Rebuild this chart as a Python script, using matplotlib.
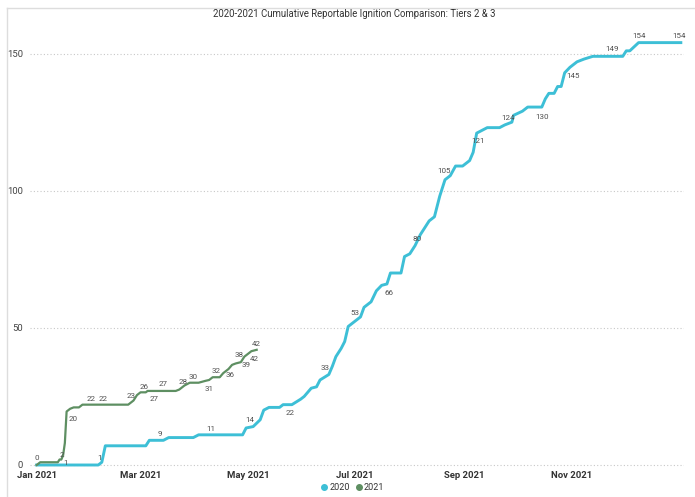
import numpy as np
import matplotlib
matplotlib.use("Agg")
import matplotlib.pyplot as plt
import matplotlib.dates as mdates
from matplotlib.lines import Line2D

plt.rcParams['font.family'] = ['Roboto', 'DejaVu Sans']

# 2020 series (plotted on the 2021 calendar), cumulative ignitions
dates_2020 = ['2021-01-01', '2021-02-05', '2021-02-07', '2021-02-09', '2021-03-04', '2021-03-06',
              '2021-03-14', '2021-03-17', '2021-03-31', '2021-04-03', '2021-04-28', '2021-04-30',
              '2021-05-04', '2021-05-08', '2021-05-10', '2021-05-13', '2021-05-19', '2021-05-21',
              '2021-05-26', '2021-05-31', '2021-06-02', '2021-06-06', '2021-06-09', '2021-06-11',
              '2021-06-16', '2021-06-18', '2021-06-20', '2021-06-23', '2021-06-25', '2021-06-27',
              '2021-06-30', '2021-07-04', '2021-07-06', '2021-07-10', '2021-07-13', '2021-07-16',
              '2021-07-19', '2021-07-21', '2021-07-27', '2021-07-29', '2021-08-01', '2021-08-04',
              '2021-08-07', '2021-08-10', '2021-08-12', '2021-08-15', '2021-08-18', '2021-08-21',
              '2021-08-24', '2021-08-27', '2021-08-31', '2021-09-04', '2021-09-06', '2021-09-08',
              '2021-09-11', '2021-09-14', '2021-09-21', '2021-09-24', '2021-09-28', '2021-09-29',
              '2021-10-04', '2021-10-07', '2021-10-15', '2021-10-17', '2021-10-19', '2021-10-22',
              '2021-10-24', '2021-10-26', '2021-10-28', '2021-10-31', '2021-11-04', '2021-11-08',
              '2021-11-13', '2021-11-30', '2021-12-02', '2021-12-04', '2021-12-09', '2022-01-02']
values_2020 = [0, 0, 1, 7, 7, 9,
               9, 10, 10, 11, 11, 13.5,
               14, 16.5, 20, 21, 21, 22,
               22, 24, 25, 28, 28.5, 31,
               33, 36, 39.5, 42.5, 45, 50.5,
               52, 54, 57.5, 59.5, 63.5, 65.5,
               66, 70, 70, 76, 77, 80,
               84, 87, 89, 90.5, 98, 104,
               105.5, 109, 109, 111, 114, 121,
               122, 123, 123, 124, 125, 127.5,
               129, 130.5, 130.5, 133.5, 135.5, 135.5,
               138, 138, 143, 145, 147, 148,
               149, 149, 151, 151, 154, 154]

# 2021 series
dates_2021 = ['2021-01-01', '2021-01-03', '2021-01-13', '2021-01-14', '2021-01-15', '2021-01-16',
              '2021-01-17', '2021-01-18', '2021-01-20', '2021-01-22', '2021-01-25', '2021-01-27',
              '2021-02-22', '2021-02-25', '2021-02-27', '2021-03-01', '2021-03-04', '2021-03-05',
              '2021-03-21', '2021-03-23', '2021-03-26', '2021-03-29', '2021-04-03', '2021-04-07',
              '2021-04-09', '2021-04-11', '2021-04-15', '2021-04-17', '2021-04-20', '2021-04-22',
              '2021-04-24', '2021-04-27', '2021-04-29', '2021-05-01', '2021-05-03', '2021-05-06']
values_2021 = [0, 1, 1, 2, 2, 3.5,
               8, 19.5, 20.5, 21, 21, 22,
               22, 23.5, 25.5, 26.5, 26.5, 27,
               27, 27.5, 29, 30, 30, 30.7,
               31, 32, 32, 33.5, 35, 36.5,
               37, 37.5, 39.5, 40.5, 41.5, 42]

# data labels
label_dates_2020 = ['2021-02-06', '2021-03-12', '2021-04-10', '2021-05-02', '2021-05-25', '2021-06-14',
                    '2021-07-01', '2021-07-19', '2021-08-05', '2021-08-22', '2021-09-09', '2021-09-26',
                    '2021-10-15', '2021-11-02', '2021-11-24', '2021-12-09', '2022-01-01']
label_text_2020 = ['1', '9', '11', '14', '22', '33', '53', '66', '80', '105', '121', '124',
                   '130', '145', '149', '154', '154']
label_dates_2021 = ['2021-01-01', '2021-01-16', '2021-01-15', '2021-01-20', '2021-02-01', '2021-02-08',
                    '2021-02-24', '2021-03-03', '2021-03-09', '2021-03-14', '2021-03-25', '2021-03-31',
                    '2021-04-09', '2021-04-13', '2021-04-21', '2021-04-26', '2021-04-30', '2021-05-04',
                    '2021-05-06']
label_text_2021 = ['0', '1', '2', '20', '22', '22', '23', '26', '27', '27', '28', '30',
                   '31', '32', '36', '38', '39', '42', '42']

series_names = ['2020', '2021']
tick_dates = ['2021-01-01', '2021-03-01', '2021-05-01', '2021-07-01', '2021-09-01', '2021-11-01']

# label offsets in pixels (dx, dy)
off_2020 = [(0, 6), (0, 6), (0, 6), (0, 7), (0, -8), (0, 9), (0, 8), (2, -9), (0, 3),
            (-3, 7), (0, -9), (0, 6), (0, -10), (0, -11), (0, 7), (0, 7), (0, 7)]
off_2021 = [(0, 7), (2, -8), (1, 5), (3, -10), (0, 6), (0, 6), (-1, 6), (0, 5), (0, -8),
            (0, 7), (0, 5), (0, 6), (0, -9), (0, 6), (0, -8), (0, 8), (0, -10), (1, -8), (0, 6)]

c2020 = '#3DBFD6'
c2021 = '#5E8F62'

fig = plt.figure(figsize=(6.95, 4.97), dpi=100)
ax = fig.add_axes([30 / 695, 1 - 467 / 497, 654 / 695, 437 / 497])

d20 = mdates.datestr2num(dates_2020)
d21 = mdates.datestr2num(dates_2021)
ax.plot(d20, values_2020, color=c2020, lw=2.1, solid_joinstyle='round', zorder=3)
ax.plot(d21, values_2021, color=c2021, lw=1.6, solid_joinstyle='round', zorder=3)

for dates, texts, offs, xs, ys in [(label_dates_2020, label_text_2020, off_2020, d20, values_2020),
                                   (label_dates_2021, label_text_2021, off_2021, d21, values_2021)]:
    ld = mdates.datestr2num(dates)
    ly = np.interp(ld, xs, ys)
    for x, y, t, (dx, dy) in zip(ld, ly, texts, offs):
        ax.annotate(t, (x, y), xytext=(dx, dy), textcoords='offset pixels',
                    ha='center', va='center', fontsize=5.8, color='#505050', zorder=4)

start = mdates.datestr2num('2021-01-01')
ax.set_xlim(start - 3.8, start + 367.8)
ax.set_ylim(-0.73, 158.6)
ax.set_yticks([0, 50, 100, 150])
ax.set_xticks(mdates.datestr2num(tick_dates))
ax.xaxis.set_major_formatter(mdates.DateFormatter('%b %Y'))
ax.tick_params(axis='x', length=0, pad=3, labelsize=6.8, labelcolor='#333333')
ax.tick_params(axis='y', length=0, pad=5, labelsize=6.8, labelcolor='#444444')
for lab in ax.get_xticklabels():
    lab.set_fontweight('bold')
for s in ax.spines.values():
    s.set_visible(False)
ax.grid(axis='y', color='#c8c8c8', linestyle=(0, (1, 2)), lw=0.8)
ax.set_axisbelow(True)

fig.text(354 / 695, 1 - 14 / 497, '2020-2021 Cumulative Reportable Ignition Comparison: Tiers 2 & 3',
         ha='center', va='center', fontsize=6.9, color='#333333')

handles = [Line2D([], [], marker='o', ls='none', color=c, markersize=4) for c in (c2020, c2021)]
fig.legend(handles, series_names, loc='center', bbox_to_anchor=(352 / 695, 1 - 488 / 497), ncol=2,
           frameon=False, fontsize=6.5, handletextpad=0.05, columnspacing=0.5, labelcolor='#333333',
           handlelength=1)

# light frame of the visual
fig.add_artist(Line2D([7 / 695, 7 / 695], [0, 1 - 8 / 497], color='#dddddd', lw=1))
fig.add_artist(Line2D([7 / 695, 1], [1 - 8 / 497, 1 - 8 / 497], color='#dddddd', lw=1))

fig.savefig('out.png', dpi=100)
